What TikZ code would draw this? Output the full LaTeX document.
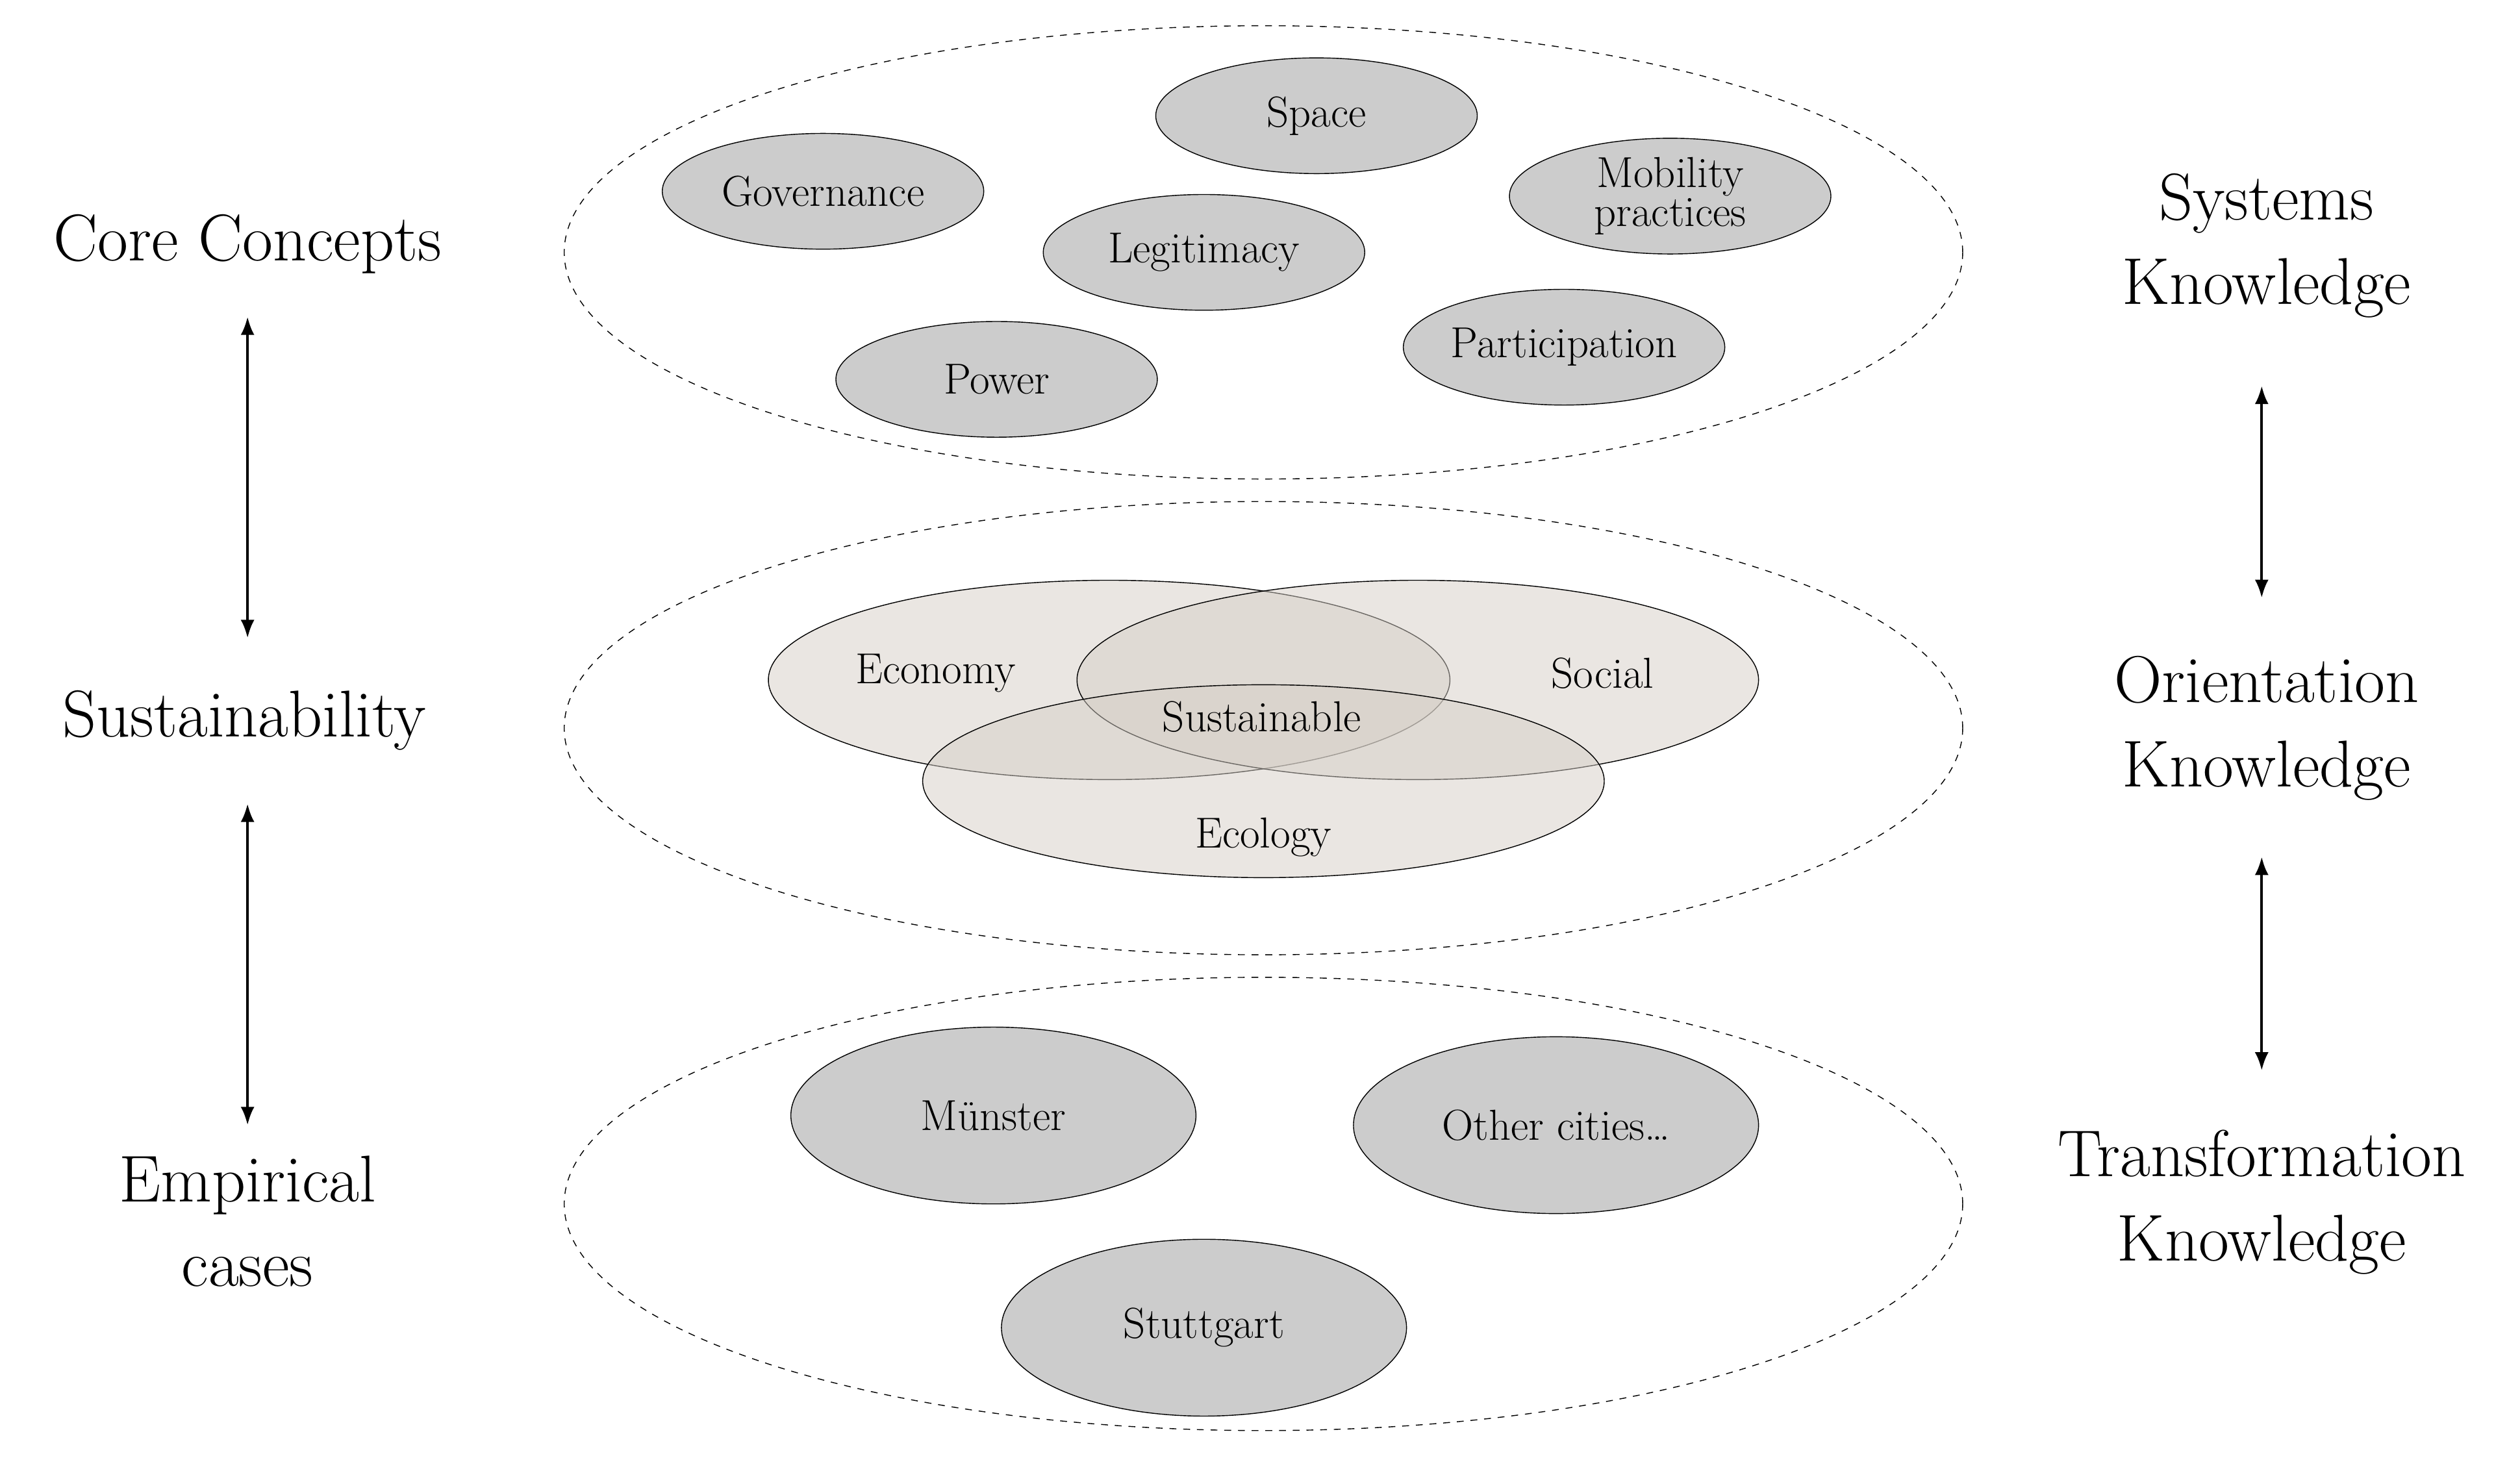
\documentclass[tikz,border=0pt]{standalone}
\usetikzlibrary{shapes.geometric,arrows.meta}
\begin{document}
\begin{tikzpicture}[x=0.02475cm,y=-0.02475cm,
  big/.style={draw,dashed,ellipse,minimum width=870*0.7042pt,minimum height=282*0.7042pt,inner sep=0},
  small/.style={draw,ellipse,fill=black!20,minimum width=200*0.7042pt,minimum height=72*0.7042pt,inner sep=0,font=\fontsize{19}{21}\selectfont,align=center},
  city/.style={small,minimum width=252*0.7042pt,minimum height=110*0.7042pt},
  venn/.style={draw,ellipse,fill=black!55!brown!25,fill opacity=0.5,minimum width=424*0.7042pt,minimum height=124*0.7042pt,inner sep=0},
  lbl/.style={font=\fontsize{19}{21}\selectfont},
  side/.style={font=\fontsize{29}{31}\selectfont,align=center},
  arr/.style={{Latex[length=8pt]}-{Latex[length=8pt]},line width=1.2pt}]
\useasboundingbox (0,0) rectangle (1567.7,906.7);
\node[big] (t) at (786,157) {};
\node[big] (m) at (786,453) {};
\node[big] (b) at (786,749) {};
\node[small] (space) at (819,72) {Space};
\node[small] (gov) at (512,119) {Governance};
\node[small] (mob) at (1039,122) {Mobility\\[-4pt]practices};
\node[small] (leg) at (749,157) {Legitimacy};
\node[small] (par) at (973,216) {Participation};
\node[small] (pow) at (620,236) {Power};
\node[venn] (eco) at (690,423) {};
\node[venn] (soc) at (882,423) {};
\node[venn,minimum height=120*0.7042pt] (ecl) at (786,486) {};
\node[lbl] (l1) at (582,419) {Economy};
\node[lbl] (l2) at (997,419) {Social};
\node[lbl] (l3) at (785,446) {Sustainable};
\node[lbl] (l4) at (786,521) {Ecology};
\node[city] (mu) at (618,694) {Münster};
\node[city] (oc) at (968,700) {Other cities\dots};
\node[city] (st) at (749,826) {Stuttgart};
\node[side] (cc) at (154,152) {Core Concepts};
\node[side] (su) at (152,448) {Sustainability};
\node[side] (em) at (154,760) {Empirical\\[6pt]cases};
\node[side] (sk) at (1410,153) {Systems\\[6pt]Knowledge};
\node[side] (ok) at (1410,453) {Orientation\\[6pt]Knowledge};
\node[side] (tk) at (1407,748) {Transformation\\[6pt]Knowledge};
\coordinate (a1) at (154,197); \coordinate (a2) at (154,397);
\coordinate (a3) at (154,500); \coordinate (a4) at (154,700);
\coordinate (a5) at (1407,240); \coordinate (a6) at (1407,372);
\coordinate (a7) at (1407,533); \coordinate (a8) at (1407,666);
\draw[arr] (a1) -- (a2);
\draw[arr] (a3) -- (a4);
\draw[arr] (a5) -- (a6);
\draw[arr] (a7) -- (a8);
\end{tikzpicture}
\end{document}
